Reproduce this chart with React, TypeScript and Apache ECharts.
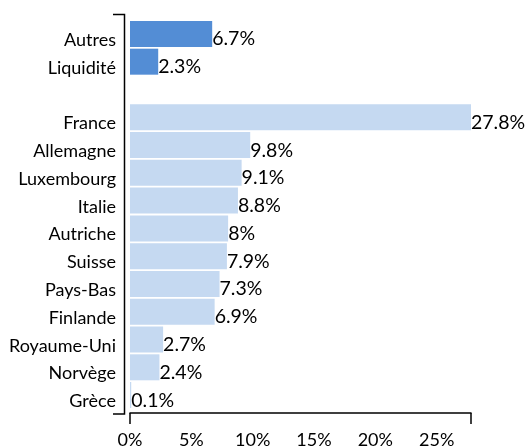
import React, { useEffect, useRef } from "react";
import * as echarts from "echarts";

const categories = [
  "Autres",
  "Liquidité",
  "",
  "France",
  "Allemagne",
  "Luxembourg",
  "Italie",
  "Autriche",
  "Suisse",
  "Pays-Bas",
  "Finlande",
  "Royaume-Uni",
  "Norvège",
  "Grèce",
];
const values: (number | null)[] = [6.7, 2.3, null, 27.8, 9.8, 9.1, 8.8, 8, 7.9, 7.3, 6.9, 2.7, 2.4, 0.1];
const darkRows = ["Autres", "Liquidité"];
const xLabelValues = [0, 5, 10, 15, 20, 25];
const xMax = 27.8;

const DARK = "#538DD5";
const LIGHT = "#C5D9F1";
const FONT = "Lato";

export default function App() {
  const ref = useRef<HTMLDivElement>(null);
  useEffect(() => {
    document.body.style.margin = "0";
    const chart = echarts.init(ref.current!, null, { renderer: "svg" });
    chart.setOption({
      animation: false,
      textStyle: { fontFamily: FONT },
      grid: { left: 130, right: 58, top: 20, height: 392 },
      xAxis: {
        type: "value",
        min: 0,
        max: xMax,
        interval: 5,
        offset: 4,
        splitLine: { show: false },
        axisLine: { show: true, lineStyle: { color: "#000", width: 1.5 } },
        axisTick: {
          show: true,
          length: 11,
          customValues: [0, xMax],
          lineStyle: { color: "#000", width: 1.5 },
        },
        axisLabel: {
          customValues: xLabelValues,
          formatter: (v: number) => `${v}%`,
          color: "#000",
          fontSize: 18,
          fontFamily: FONT,
          margin: 17,
        },
      },
      yAxis: {
        type: "category",
        inverse: true,
        data: categories,
        axisLine: { show: false },
        axisTick: { show: false },
        axisLabel: {
          color: "#000",
          fontSize: 18,
          fontFamily: FONT,
          margin: 14,
          verticalAlign: "top",
          lineHeight: 10,
        },
      },
      graphic: [
        {
          type: "polyline",
          shape: { points: [[113, 14.5], [124.5, 14.5], [124.5, 414], [113, 414]] },
          style: { stroke: "#000", lineWidth: 1.5, fill: null },
        },
      ],
      series: [
        {
          type: "bar",
          barWidth: 26,
          data: values.map((v, i) => ({
            value: v,
            itemStyle: { color: darkRows.includes(categories[i]) ? DARK : LIGHT },
          })),
          label: {
            show: true,
            position: "right",
            distance: 0,
            offset: [0, 4],
            color: "#000",
            fontSize: 19.5,
            fontFamily: FONT,
            formatter: (p: any) => (p.value == null ? "" : `${p.value}%`),
          },
        },
      ],
    });
    return () => chart.dispose();
  }, []);
  return <div ref={ref} style={{ position: "fixed", left: 0, top: 0, width: 529, height: 448 }} />;
}
